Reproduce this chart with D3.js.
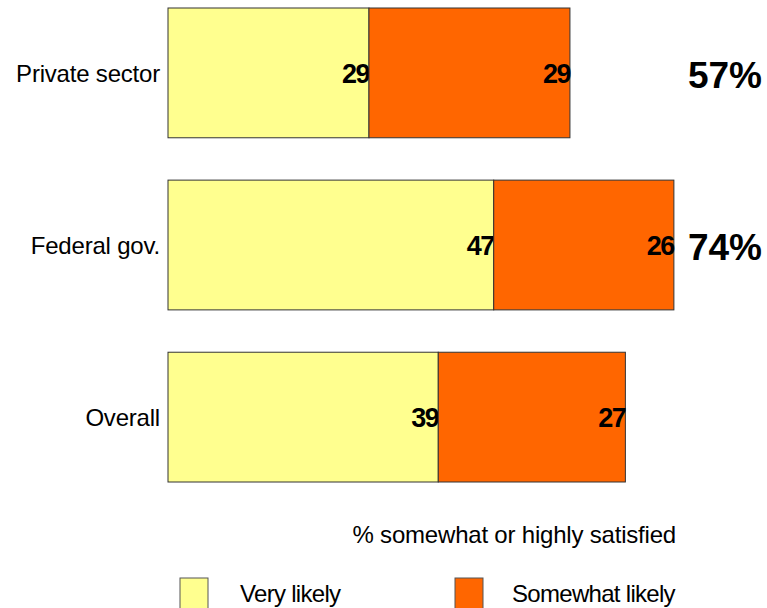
<!DOCTYPE html>
<html>
<head>
<meta charset="utf-8">
<script src="https://cdn.jsdelivr.net/npm/d3@7"></script>
<style>
  body { margin: 0; background: #fff; }
  svg { display: block; font-family: "Liberation Sans", Arial, sans-serif; }
</style>
</head>
<body>
<div id="chart"></div>
<script>
// chart data
var categories = ["Private sector", "Federal gov.", "Overall"];
var veryLikely = [29, 47, 39];
var somewhatLikely = [29, 26, 27];
var totals = ["57%", "74%", ""];
var seriesNames = ["Very likely", "Somewhat likely"];
var colors = ["#FFFF8F", "#FF6600"];
var axisTitle = "% somewhat or highly satisfied";

var width = 767, height = 608;

var svg = d3.select("#chart").append("svg")
            .attr("width", width)
            .attr("height", height);

// scales
var x = d3.scaleLinear().domain([0, 100]).range([168, 861]);
var y = d3.scaleBand()
          .domain(categories)
          .range([8, 482])
          .paddingInner(0.246)
          .paddingOuter(0);

var rows = categories.map(function(c, i) {
  return {cat: c, v: [veryLikely[i], somewhatLikely[i]], total: totals[i]};
});

var stack = d3.stack().keys([0, 1]).value(function(d, k) { return d.v[k]; });
var layers = stack(rows);

// bars
var g = svg.selectAll(".layer")
           .data(layers)
           .enter().append("g")
           .attr("class", "layer")
           .attr("fill", function(d, i) { return colors[i]; });

g.selectAll("rect")
 .data(function(d) { return d; })
 .enter().append("rect")
 .attr("x", function(d) { return x(d[0]); })
 .attr("y", function(d) { return y(d.data.cat); })
 .attr("width", function(d) { return x(d[1]) - x(d[0]); })
 .attr("height", y.bandwidth())
 .attr("stroke", "#333")
 .attr("stroke-width", 1);

// value labels, right aligned at segment end
g.selectAll("text")
 .data(function(d, k) { return d.map(function(s) { return {s: s, k: k}; }); })
 .enter().append("text")
 .attr("x", function(d) { return x(d.s[1]); })
 .attr("y", function(d) { return y(d.s.data.cat) + y.bandwidth() / 2; })
 .attr("dy", "0.36em")
 .attr("text-anchor", "end")
 .attr("fill", "#000")
 .style("font-size", "27px")
 .style("font-weight", "bold")
 .style("letter-spacing", "-1.5px")
 .text(function(d) { return d.s.data.v[d.k]; });

// category labels
svg.selectAll(".cat")
   .data(categories)
   .enter().append("text")
   .attr("class", "cat")
   .attr("x", 160)
   .attr("y", function(d) { return y(d) + y.bandwidth() / 2; })
   .attr("dy", "0.36em")
   .attr("text-anchor", "end")
   .style("font-size", "24px")
   .style("letter-spacing", "-0.2px")
   .text(function(d) { return d; });

// totals on the right
svg.selectAll(".total")
   .data(rows)
   .enter().append("text")
   .attr("class", "total")
   .attr("x", 762)
   .attr("y", function(d) { return y(d.cat) + y.bandwidth() / 2 + 2; })
   .attr("dy", "0.36em")
   .attr("text-anchor", "end")
   .style("font-size", "37px")
   .style("font-weight", "bold")
   .text(function(d) { return d.total; });

// axis title
svg.append("text")
   .attr("x", 676)
   .attr("y", 543)
   .attr("text-anchor", "end")
   .style("font-size", "24px")
   .style("letter-spacing", "-0.2px")
   .text(axisTitle);

// legend
var legend = svg.selectAll(".legend")
                .data(seriesNames)
                .enter().append("g")
                .attr("class", "legend")
                .attr("transform", function(d, i) { return "translate(" + (180 + i * 275) + ",578)"; });

legend.append("rect")
      .attr("width", 28)
      .attr("height", 31)
      .attr("fill", function(d, i) { return colors[i]; })
      .attr("stroke", "#555");

legend.append("text")
      .attr("x", function(d, i) { return i === 0 ? 60 : 57; })
      .attr("y", 24)
      .style("font-size", "24px")
      .style("letter-spacing", "-0.7px")
      .text(function(d) { return d; });
</script>
</body>
</html>
